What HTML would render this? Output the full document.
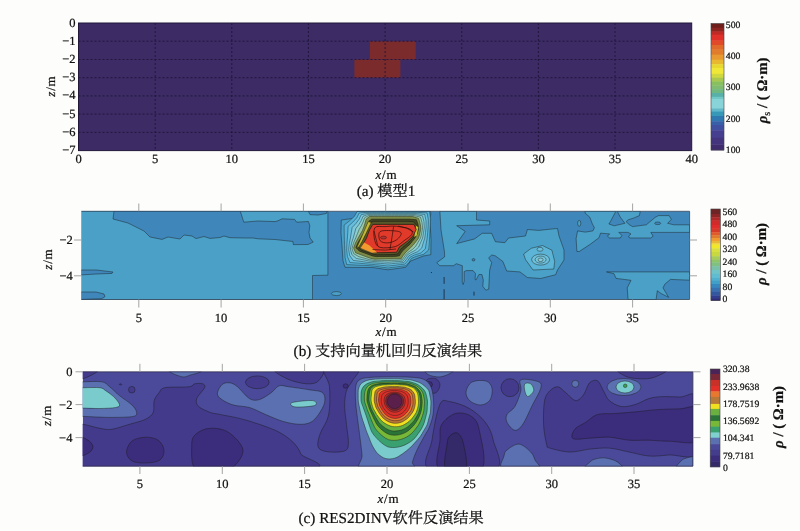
<!DOCTYPE html>
<html><head><meta charset="utf-8"><title>figure</title>
<style>html,body{margin:0;padding:0;background:#fdfdfb;}body{width:800px;height:531px;overflow:hidden;}svg{display:block;}</style>
</head><body>
<svg width="800" height="531" viewBox="0 0 800 531" style="will-change:transform" text-rendering="geometricPrecision">
<rect width="800" height="531" fill="#fdfdfb"/>
<rect x="78.5" y="23" width="613.2" height="127.6" fill="#3c2b64"/>
<rect x="369.8" y="41.2" width="46" height="18.2" fill="#7b2b2b"/>
<rect x="354.4" y="59.5" width="46" height="18.2" fill="#7b2b2b"/>
<g stroke="#1e1438" stroke-width="0.85" stroke-dasharray="2 2"><line x1="78.5" y1="41.2" x2="691.7" y2="41.2"/><line x1="78.5" y1="59.5" x2="691.7" y2="59.5"/><line x1="78.5" y1="77.7" x2="691.7" y2="77.7"/><line x1="78.5" y1="95.9" x2="691.7" y2="95.9"/><line x1="78.5" y1="114.1" x2="691.7" y2="114.1"/><line x1="78.5" y1="132.4" x2="691.7" y2="132.4"/><line x1="155.2" y1="23" x2="155.2" y2="150.6"/><line x1="231.8" y1="23" x2="231.8" y2="150.6"/><line x1="308.4" y1="23" x2="308.4" y2="150.6"/><line x1="385.1" y1="23" x2="385.1" y2="150.6"/><line x1="461.8" y1="23" x2="461.8" y2="150.6"/><line x1="538.4" y1="23" x2="538.4" y2="150.6"/><line x1="615" y1="23" x2="615" y2="150.6"/></g>
<rect x="78.5" y="23" width="613.2" height="127.6" fill="none" stroke="#22183a" stroke-width="1"/>
<g font-family="'Liberation Serif',serif" fill="#111" stroke="#111" stroke-width="0.22"><text x="75.5" y="26.5" font-size="12.5" text-anchor="end">0</text><text x="75.5" y="44.7" font-size="12.5" text-anchor="end">&#8722;1</text><text x="75.5" y="63" font-size="12.5" text-anchor="end">&#8722;2</text><text x="75.5" y="81.2" font-size="12.5" text-anchor="end">&#8722;3</text><text x="75.5" y="99.4" font-size="12.5" text-anchor="end">&#8722;4</text><text x="75.5" y="117.6" font-size="12.5" text-anchor="end">&#8722;5</text><text x="75.5" y="135.9" font-size="12.5" text-anchor="end">&#8722;6</text><text x="75.5" y="154.1" font-size="12.5" text-anchor="end">&#8722;7</text><text x="78.5" y="162.8" font-size="12.5" text-anchor="middle">0</text><text x="155.2" y="162.8" font-size="12.5" text-anchor="middle">5</text><text x="231.8" y="162.8" font-size="12.5" text-anchor="middle">10</text><text x="308.4" y="162.8" font-size="12.5" text-anchor="middle">15</text><text x="385.1" y="162.8" font-size="12.5" text-anchor="middle">20</text><text x="461.8" y="162.8" font-size="12.5" text-anchor="middle">25</text><text x="538.4" y="162.8" font-size="12.5" text-anchor="middle">30</text><text x="615" y="162.8" font-size="12.5" text-anchor="middle">35</text><text x="691.7" y="162.8" font-size="12.5" text-anchor="middle">40</text><text x="386" y="178.8" font-size="13" text-anchor="middle"><tspan font-style="italic">x</tspan><tspan dx="0.8">/</tspan><tspan dx="0.8">m</tspan></text><text transform="translate(50 86.5) rotate(-90)" font-size="13" text-anchor="middle" y="4.5"><tspan font-style="italic">z</tspan><tspan dx="0.8">/</tspan><tspan dx="0.8">m</tspan></text><text x="386" y="196" font-size="15.2" text-anchor="middle" font-family="'Liberation Serif','Noto Serif CJK SC','Noto Sans CJK SC',serif">(a) <tspan stroke="#111" stroke-width="0.25">模型</tspan>1</text></g>
<rect x="711" y="23.5" width="13" height="4.6" fill="#6e1f1c"/><rect x="711" y="27.7" width="13" height="4.2" fill="#8e2420"/><rect x="711" y="31.5" width="13" height="3.6" fill="#c02a26"/><rect x="711" y="34.7" width="13" height="6.2" fill="#e0302a"/><rect x="711" y="40.5" width="13" height="4.9" fill="#e04a28"/><rect x="711" y="45" width="13" height="4.9" fill="#e06a2a"/><rect x="711" y="49.5" width="13" height="5.5" fill="#e07c2c"/><rect x="711" y="54.6" width="13" height="5.5" fill="#e89a30"/><rect x="711" y="59.7" width="13" height="4.9" fill="#e8b830"/><rect x="711" y="64.2" width="13" height="4.2" fill="#e8d830"/><rect x="711" y="68" width="13" height="6.2" fill="#f0e838"/><rect x="711" y="73.8" width="13" height="4.3" fill="#d0d840"/><rect x="711" y="77.7" width="13" height="4.2" fill="#a8c850"/><rect x="711" y="81.5" width="13" height="4.3" fill="#88c060"/><rect x="711" y="85.4" width="13" height="4.1" fill="#80bc70"/><rect x="711" y="89.1" width="13" height="4.3" fill="#70b880"/><rect x="711" y="93" width="13" height="4.2" fill="#58b0a8"/><rect x="711" y="96.8" width="13" height="3" fill="#70c8c8"/><rect x="711" y="99.4" width="13" height="9.4" fill="#88d4d8"/><rect x="711" y="108.4" width="13" height="3.6" fill="#60b8c8"/><rect x="711" y="111.6" width="13" height="4.8" fill="#3898b8"/><rect x="711" y="116" width="13" height="5.6" fill="#3078b0"/><rect x="711" y="121.2" width="13" height="4.2" fill="#3860a8"/><rect x="711" y="125" width="13" height="5.6" fill="#4050a0"/><rect x="711" y="130.2" width="13" height="8" fill="#463e8e"/><rect x="711" y="137.8" width="13" height="6.9" fill="#44347e"/><rect x="711" y="144.3" width="13" height="6.1" fill="#3e2c6e"/>
<rect x="711" y="23.5" width="13" height="126.5" fill="none" stroke="#444" stroke-width="0.6"/>
<g font-family="'Liberation Serif',serif" fill="#111" stroke="#111" stroke-width="0.22"><text x="725.8" y="28" font-size="9.7" text-anchor="start">500</text><text x="725.8" y="59.2" font-size="9.7" text-anchor="start">400</text><text x="725.8" y="90.4" font-size="9.7" text-anchor="start">300</text><text x="725.8" y="121.6" font-size="9.7" text-anchor="start">200</text><text x="725.8" y="152.8" font-size="9.7" text-anchor="start">100</text><text transform="translate(762 90.4) rotate(-90)" font-size="14.8" text-anchor="middle" y="5" font-weight="bold"><tspan font-style="italic">&#961;</tspan><tspan font-weight="normal" font-size="10" dy="3">s</tspan><tspan dy="-3"> / ( &#937;&#183;m)</tspan></text></g>
<svg x="81.4" y="211.3" width="608.2" height="88.2" viewBox="81.4 211.3 608.2 88.2" overflow="hidden">
<rect x="81.4" y="211.3" width="608.2" height="88.2" fill="#3f86bb"/>
<path d="M80 210 L327.9 210 L327.9 275.2 L312.5 275.5 L312.5 301 L80 301Z" fill="#4aa0c6" stroke="#1a1a1a" stroke-width="0.45" stroke-linejoin="round"/>
<path d="M114 210 L240.3 210 L240.3 211.3 L243.8 222.2 L258 221 L275 221.6 L278 220.8 L282 218.8 L294.6 219.4 L296.7 222.2 L308.4 221.5 L309.8 225.6 L309 232.5 L310 238 L313.2 242.1 L308 244.5 L293.3 244.6 L293 241.5 L275 239.5 L258 238.8 L253 238 L245 238 L230 237.7 L224 236 L220 237.5 L210 238.4 L204 236.5 L196 238.6 L192 236 L184 235 L180 239 L168 237 L162 239.4 L150 237 L144 231 L128 223 L113 219 L114 211.3Z" fill="#3f86bb" stroke="#1a1a1a" stroke-width="0.45" stroke-linejoin="round"/>
<path d="M308.4 210 L308.4 211.3 L310 214.6 L318 215 L326.3 213.5 L327.5 210Z" fill="#3f86bb" stroke="#1a1a1a" stroke-width="0.45" stroke-linejoin="round"/>
<path d="M80 270 L96.4 270 L113 272 L112 273.4 L96 274 L80 275Z" fill="#3f86bb" stroke="#1a1a1a" stroke-width="0.45" stroke-linejoin="round"/>
<path d="M80 292 L96 292 L104 294 L105 296.6 L102 298.6 L80 299.5Z" fill="#3f86bb" stroke="#1a1a1a" stroke-width="0.45" stroke-linejoin="round"/>
<ellipse cx="336.4" cy="293.6" rx="5" ry="2" fill="#4aa0c6" stroke="#1a1a1a" stroke-width="0.45"/>
<path d="M439.8 210 L476.5 210 L476.5 220 L489.7 221 L489.7 224.8 L456.7 225.7 L465.2 231.4 L456.7 243.6 L474.6 238.9 L482.2 233.3 L491.6 233.3 L495.4 241.7 L504.8 242.7 L508.6 238 L525.5 236 L527.4 229.5 L538.7 230.4 L555.7 228.6 L557.5 228.5 L559 236 L564 250 L564 260 L557.5 270 L555.7 274.7 L540.6 278.5 L527.4 277.5 L519.9 271.9 L506.7 271 L502.9 261.5 L495.4 255.9 L491.7 255 L488.7 257.8 L491.7 262.7 L489.7 270 L488.7 289.2 L485.8 290.2 L482.8 286.3 L483.3 280 L481.9 274.5 L478.9 274.5 L476 280 L475 279.4 L475.5 273.5 L473 270.6 L466.2 270.6 L464.2 271.6 L464.2 281 L463.2 284.5 L462.3 282.4 L462.3 265.7 L456.4 263.7 L453.4 265.7 L439.7 265.7 L436.8 262.7 L444.6 256.9 L444.5 252 L441 230Z" fill="#4aa0c6" stroke="#1a1a1a" stroke-width="0.45" stroke-linejoin="round"/>
<ellipse cx="473.5" cy="259.8" rx="1.4" ry="1.2" fill="#3f86bb" stroke="#1a1a1a" stroke-width="0.45"/>
<g stroke="#1a2a40" stroke-width="0.9"><line x1="444.1" y1="277" x2="444.1" y2="283.8"/><line x1="444.1" y1="289.2" x2="444.1" y2="299.5"/><line x1="474" y1="291.7" x2="474" y2="295.6"/></g>
<ellipse cx="431.4" cy="272.5" rx="0.6" ry="0.6" fill="#1a2a40"/>
<path d="M523.6 254 L531.2 248.3 L542.5 245.5 L551.9 250.2 L554.7 261.5 L553.8 269 L533 270 L525.5 259.6Z" fill="#5cb4d6" stroke="#1a1a1a" stroke-width="0.45" stroke-linejoin="round"/>
<ellipse cx="540.6" cy="259.6" rx="9" ry="5.5" fill="#6cc0dc" stroke="#1a1a1a" stroke-width="0.45"/>
<ellipse cx="540.6" cy="259.6" rx="5.5" ry="3.5" fill="#78c6dc" stroke="#1a1a1a" stroke-width="0.45"/>
<ellipse cx="540.6" cy="259.8" rx="2.5" ry="1.8" fill="#84ccdc" stroke="#1a1a1a" stroke-width="0.45"/>
<ellipse cx="540" cy="249.3" rx="3" ry="2" fill="#6cc0dc" stroke="#1a1a1a" stroke-width="0.45"/>
<path d="M576.9 251.5 L576.1 238.5 L577.6 230.9 L585.3 232.1 L592.9 230.9 L594.4 227.8 L592.1 223.3 L589.8 217.2 L585.3 213.3 L584.5 209.5 L615.8 209.5 L615.8 211.4 L611.2 220.2 L608.9 224 L614.2 225.8 L624.9 223.3 L620.3 217.2 L617.3 211.4 L617.3 209.5 L640.2 209.5 L640.2 211.4 L639.4 215.6 L634.1 217.9 L628 219.9 L626.1 221.7 L629.5 224.8 L632.5 226.6 L646.3 224.8 L655.4 217.2 L658.5 215.6 L669.1 215.6 L671.4 219.4 L667.6 223.3 L673.7 224.8 L692 224.8 L692 232.4 L650.8 232.4 L653.1 236.2 L650.8 238 L629.5 238 L628.7 236.2 L631 233.9 L628 232.4 L618.8 232.4 L621.9 235.5 L620.3 238 L609.7 238 L607.4 236.2 L609.7 233.9 L600.5 233.2 L599 237.7 L589.8 244.6 L579.2 251.5Z" fill="#4aa0c6" stroke="#1a1a1a" stroke-width="0.45" stroke-linejoin="round"/>
<ellipse cx="657.7" cy="223.3" rx="3" ry="1.3" fill="#3f86bb" stroke="#1a1a1a" stroke-width="0.45"/>
<ellipse cx="579.2" cy="223.3" rx="1.6" ry="3" fill="#4aa0c6" stroke="#1a1a1a" stroke-width="0.45"/>
<path d="M606.5 271.9 L692 271.9 L692 280.3 L670.5 279.4 L664.9 284.1 L663 287.9 L668.6 297.3 L661 293.5 L657.3 290.7 L656.4 297.3 L656 301 L628.2 301 L627.2 287.9 L631 280.3 L616 278.4 L614 273.7Z" fill="#4aa0c6" stroke="#1a1a1a" stroke-width="0.45" stroke-linejoin="round"/>
<path d="M357.7 210 L356.4 218 L341.3 220 L341 233 L342 245.8 L343 261 L345 267.3 L372.8 267.5 L388 269.8 L405.6 267.3 L410.7 261 L423.3 256 L430.8 254.7 L431 239.5 L430 220.6 L430.8 213 L430 210Z" fill="#4aa0c6" stroke="#1a1a1a" stroke-width="0.45" stroke-linejoin="round"/>
<path d="M344.3 238 L344.2 231.7 L344.1 225.1 L349.8 220.6 L354.4 216.4 L357.2 211.3 L364.9 211.3 L370.8 211.3 L375.8 211.3 L380.2 211.3 L384.2 211.3 L388 211.3 L391.8 211.3 L395.8 211.3 L400.2 211.3 L405.2 211.3 L411.1 211.3 L418.8 211.3 L429.5 211.3 L430.6 218.5 L430.3 225.6 L429.9 232 L429.6 238 L429.2 243.9 L428.7 250 L423.7 254.3 L416.5 256.3 L411.5 258.3 L409 262.3 L405.8 265.7 L400.9 266.3 L396.5 266.9 L392.2 267.4 L388 268 L383.8 267.4 L379.5 266.8 L375.1 266.2 L370.2 265.7 L364.2 265.4 L356.8 265.1 L346.7 264.6 L345.1 257.6 L344.8 250.7 L344.5 244.3Z" fill="#56b2da" stroke="#203840" stroke-width="0.5" stroke-linejoin="round"/>
<path d="M347.4 238 L347.8 232.2 L348.1 226.3 L352.9 222 L356.7 217.9 L359.2 213 L365.9 212.4 L371.6 212.4 L376.3 212.4 L380.5 212.4 L384.3 212.4 L388 212.4 L391.7 212.4 L395.5 212.4 L399.7 212.4 L404.4 212.4 L410.1 212.4 L417.5 212.4 L427.1 212.9 L428.3 219.6 L428.2 226.2 L427.7 232.3 L427.2 238 L426.2 243.5 L425.3 248.9 L420.7 253 L414.5 255 L410.1 257.1 L407.7 260.8 L404.8 264.1 L400.2 264.6 L396 265.1 L392 265.6 L388 266 L384 265.6 L380 265.1 L375.8 264.7 L371.1 264.3 L365.6 263.8 L358.9 263.2 L349.9 262.5 L347.4 256.5 L346.7 250.1 L346.9 243.9Z" fill="#66bede" stroke="#203840" stroke-width="0.5" stroke-linejoin="round"/>
<path d="M350.4 238 L351.3 232.7 L352.1 227.5 L356 223.4 L359 219.4 L361.2 214.7 L366.8 213.6 L372.3 213.6 L376.9 213.6 L380.8 213.6 L384.5 213.6 L388 213.6 L391.5 213.6 L395.2 213.6 L399.1 213.6 L403.7 213.6 L409.2 213.6 L416.2 213.6 L424.7 214.4 L426 220.7 L426.1 226.8 L425.5 232.6 L424.8 238 L423.2 243.1 L421.8 247.9 L417.8 251.6 L412.6 253.8 L408.7 255.9 L406.5 259.3 L403.8 262.6 L399.4 263 L395.4 263.3 L391.7 263.7 L388 264 L384.3 263.7 L380.5 263.4 L376.5 263.1 L372 262.8 L367 262.3 L361 261.4 L353.2 260.4 L349.7 255.5 L348.7 249.5 L349.3 243.6Z" fill="#7cc8dc" stroke="#203840" stroke-width="0.5" stroke-linejoin="round"/>
<path d="M353.2 238 L354.6 233.2 L355.8 228.5 L358.8 224.7 L361.2 220.7 L363 216.3 L367.7 214.6 L373 214.6 L377.3 214.6 L381.1 214.6 L384.6 214.6 L388 214.6 L391.4 214.6 L394.9 214.6 L398.7 214.6 L403 214.6 L408.3 214.6 L415 214.6 L422.5 215.8 L423.9 221.6 L424.3 227.3 L423.5 232.9 L422.6 238 L420.5 242.7 L418.7 247 L415.1 250.4 L410.8 252.6 L407.4 254.8 L405.3 258 L402.9 261.2 L398.7 261.5 L395 261.7 L391.4 262 L388 262.2 L384.5 262 L381 261.8 L377.2 261.7 L372.9 261.5 L368.2 260.8 L362.9 259.7 L356.2 258.4 L351.8 254.5 L350.4 249 L351.5 243.2Z" fill="#8ccfd0" stroke="#203840" stroke-width="0.5" stroke-linejoin="round"/>
<path d="M355.7 238 L357.5 233.6 L359.1 229.5 L361.3 225.8 L363.1 222 L364.6 217.7 L368.6 215.6 L373.6 215.6 L377.8 215.6 L381.4 215.6 L384.8 215.6 L388 215.6 L391.2 215.6 L394.6 215.6 L398.2 215.6 L402.4 215.6 L407.4 215.6 L413.9 215.6 L420.5 217.1 L422 222.5 L422.6 227.8 L421.7 233.2 L420.6 238 L418 242.3 L415.8 246.2 L412.6 249.3 L409.2 251.6 L406.3 253.9 L404.3 256.8 L402.1 259.9 L398.1 260.1 L394.5 260.3 L391.2 260.4 L388 260.6 L384.8 260.5 L381.4 260.4 L377.8 260.4 L373.6 260.4 L369.3 259.6 L364.6 258.3 L358.9 256.7 L353.7 253.7 L352 248.6 L353.5 243Z" fill="#98c8a8" stroke="#203840" stroke-width="0.5" stroke-linejoin="round"/>
<path d="M358.1 238 L360.4 234 L362.4 230.5 L363.8 227 L365 223.2 L366.2 219.1 L369.4 216.5 L374.2 216.5 L378.2 216.5 L381.7 216.5 L384.9 216.5 L388 216.5 L391.1 216.5 L394.3 216.5 L397.8 216.5 L401.8 216.5 L406.6 216.5 L412.8 216.5 L418.6 218.4 L420.1 223.3 L420.9 228.3 L419.9 233.4 L418.6 238 L415.6 242 L413 245.3 L410.2 248.1 L407.6 250.6 L405.2 252.9 L403.2 255.5 L401.3 258.6 L397.5 258.8 L394.1 258.8 L391 258.9 L388 258.9 L385 259 L381.8 259 L378.4 259.1 L374.4 259.2 L370.4 258.3 L366.3 256.8 L361.5 255 L355.6 252.8 L353.6 248.1 L355.5 242.7Z" fill="#7c8c48" stroke="#2a2a18" stroke-width="0.5" stroke-linejoin="round"/>
<path d="M360.8 238 L363 234.4 L364.9 231.2 L366.3 228.1 L367.5 224.8 L368.7 221.3 L371.7 219.2 L375.9 219.2 L379.4 219.2 L382.5 219.2 L385.3 219.2 L388 219.2 L390.7 219.2 L393.5 219.2 L396.6 219.2 L400.1 219.2 L404.3 219.2 L409.7 219.2 L416.4 219.8 L418 224.3 L418.5 229.1 L417.2 233.8 L415 238 L412.2 241.5 L409.8 244.4 L407.1 246.7 L404.8 248.8 L402.7 250.7 L401 253 L399.4 255.7 L396.4 256.3 L393.4 256.4 L390.6 256.4 L388 256.4 L385.3 256.5 L382.6 256.5 L379.5 256.5 L376.1 256.6 L372.5 255.9 L368.9 254.6 L364.6 253 L359.3 251.1 L355.9 247.4 L358.2 242.3Z" fill="#424624" stroke="#1a1a10" stroke-width="0.6" stroke-linejoin="round"/>
<path d="M363.6 238 L365.2 234.7 L366.6 231.7 L367.8 228.8 L369 225.8 L370.3 222.6 L373.6 221.3 L377.3 221.3 L380.4 221.3 L383.1 221.3 L385.6 221.3 L388 221.3 L390.4 221.3 L392.9 221.3 L395.6 221.3 L398.7 221.3 L402.4 221.3 L407.2 221.3 L413.5 221.6 L416.4 225 L417.3 229.4 L415.5 234 L412.9 238 L410 241.2 L407.3 243.7 L404.9 245.7 L402.7 247.4 L400.9 249.2 L399.5 251.3 L398.1 253.8 L395.5 254.4 L392.8 254.5 L390.4 254.5 L388 254.6 L385.6 254.6 L383.1 254.7 L380.4 254.7 L377.2 254.8 L373.9 254.3 L370.5 253.2 L366.4 251.9 L361.4 250.2 L358.4 246.7 L361.2 241.9Z" fill="#56582a" stroke="#1a1a10" stroke-width="0.6" stroke-linejoin="round"/>
<path d="M368.2 221.6 L371.2 222.6 L366.5 232.5 L362 241.5 L359 246.8 L356.5 248.3 L358.5 243.8 L363.5 232.5Z" fill="#c4b834" stroke="#2a2a10" stroke-width="0.5" stroke-linejoin="round"/>
<path d="M416.2 225.5 L418.3 227.5 L416.8 235.5 L414.2 237Z" fill="#c8c030"/>
<path d="M372.8 224.4 L414 224.4 L416.2 229.5 L413.3 235.5 L407.3 241.3 L399.5 246.8 L396.5 252.3 L376 252.8 L361 248 L366.5 238 L369.5 230Z" fill="#e23a2a" stroke="#201a10" stroke-width="0.7" stroke-linejoin="round"/>
<path d="M360.5 248 L364.2 242.5 L369.5 245.5 L377 252.5 L372 252.8Z" fill="#f09a30"/>
<path d="M374.8 227.8 C376.5 225.5 381.4 226.8 385 226.6 C388.6 226.3 392.4 225.9 396.6 226.3 C400.8 226.8 407.7 227.9 410.2 229.3 C412.7 230.7 412.7 232.6 411.7 234.5 C410.7 236.4 406.9 238.6 404.2 240.6 C401.4 242.6 399.2 245.5 395.2 246.6 C391.2 247.7 383.5 248.4 380.1 247.4 C376.7 246.4 375.7 243.9 374.8 240.6 C373.9 237.3 373.1 230.1 374.8 227.8Z" fill="none" stroke="#2a0c08" stroke-width="0.7"/>
<path d="M380.1 231.6 C382.4 230 390.1 230.6 393.6 230.8 C397.1 231.1 400.7 231.6 401.2 233.1 C401.7 234.6 398.9 238.2 396.6 239.8 C394.3 241.4 390.4 242.8 387.6 242.9 C384.9 243 381.4 242.5 380.1 240.6 C378.9 238.7 377.9 233.2 380.1 231.6Z" fill="none" stroke="#2a0c08" stroke-width="0.7"/>
<path d="M393.6 226.3 Q392 238 389.9 249.7 M374 231 Q376 239 377.8 246 M398 226 Q407 227 413.5 232 M372.5 249.5 Q386 251 396 249" fill="none" stroke="#2a0c08" stroke-width="0.65"/>
<ellipse cx="383.5" cy="237.6" rx="3" ry="1.5" fill="#a83434" stroke="#3a1010" stroke-width="0.45"/>
</svg>
<path d="M81.4 211.3 H689.6 V299.5 H81.4" fill="none" stroke="#263c52" stroke-width="0.8"/>
<g stroke="#9a9a9a" stroke-width="0.9"><line x1="138.8" y1="203.5" x2="138.8" y2="211.3"/><line x1="138.8" y1="299.5" x2="138.8" y2="307.5"/><line x1="221.1" y1="203.5" x2="221.1" y2="211.3"/><line x1="221.1" y1="299.5" x2="221.1" y2="307.5"/><line x1="303.4" y1="203.5" x2="303.4" y2="211.3"/><line x1="303.4" y1="299.5" x2="303.4" y2="307.5"/><line x1="385.7" y1="203.5" x2="385.7" y2="211.3"/><line x1="385.7" y1="299.5" x2="385.7" y2="307.5"/><line x1="468" y1="203.5" x2="468" y2="211.3"/><line x1="468" y1="299.5" x2="468" y2="307.5"/><line x1="550.3" y1="203.5" x2="550.3" y2="211.3"/><line x1="550.3" y1="299.5" x2="550.3" y2="307.5"/><line x1="632.6" y1="203.5" x2="632.6" y2="211.3"/><line x1="632.6" y1="299.5" x2="632.6" y2="307.5"/><line x1="74" y1="240" x2="81.4" y2="240"/><line x1="689.6" y1="240" x2="697" y2="240"/><line x1="74" y1="275.8" x2="81.4" y2="275.8"/><line x1="689.6" y1="275.8" x2="697" y2="275.8"/></g>
<rect x="710.9" y="209" width="9.4" height="5.4" fill="#6e2424"/><rect x="710.9" y="214" width="9.4" height="3.6" fill="#8c2626"/><rect x="710.9" y="217.2" width="9.4" height="3.7" fill="#b02828"/><rect x="710.9" y="220.5" width="9.4" height="4.7" fill="#d02a2a"/><rect x="710.9" y="224.8" width="9.4" height="4.1" fill="#e02c2a"/><rect x="710.9" y="228.5" width="9.4" height="4.2" fill="#d83a2a"/><rect x="710.9" y="232.3" width="9.4" height="3.2" fill="#e05a2c"/><rect x="710.9" y="235.1" width="9.4" height="3.3" fill="#e07a30"/><rect x="710.9" y="238" width="9.4" height="3.2" fill="#f09a30"/><rect x="710.9" y="240.8" width="9.4" height="2.7" fill="#e8b838"/><rect x="710.9" y="243.1" width="9.4" height="1.8" fill="#f0d040"/><rect x="710.9" y="244.5" width="9.4" height="4.2" fill="#f0e828"/><rect x="710.9" y="248.3" width="9.4" height="4.1" fill="#d8e040"/><rect x="710.9" y="252" width="9.4" height="4.6" fill="#c8d840"/><rect x="710.9" y="256.2" width="9.4" height="3.7" fill="#a8cc58"/><rect x="710.9" y="259.5" width="9.4" height="3.3" fill="#90c468"/><rect x="710.9" y="262.4" width="9.4" height="4.1" fill="#80c080"/><rect x="710.9" y="266.1" width="9.4" height="4.2" fill="#78c0a8"/><rect x="710.9" y="269.9" width="9.4" height="4.2" fill="#70c4c8"/><rect x="710.9" y="273.7" width="9.4" height="4.1" fill="#60bcd0"/><rect x="710.9" y="277.4" width="9.4" height="3.2" fill="#50b0d0"/><rect x="710.9" y="280.2" width="9.4" height="4.2" fill="#40a0c8"/><rect x="710.9" y="284" width="9.4" height="4.2" fill="#3888c0"/><rect x="710.9" y="287.8" width="9.4" height="4.1" fill="#3870b0"/><rect x="710.9" y="291.5" width="9.4" height="4.2" fill="#3458a0"/><rect x="710.9" y="295.3" width="9.4" height="3.2" fill="#303e90"/><rect x="710.9" y="298.1" width="9.4" height="2.7" fill="#2e2c78"/>
<rect x="710.9" y="209" width="9.4" height="91.4" fill="none" stroke="#444" stroke-width="0.6"/>
<g font-family="'Liberation Serif',serif" fill="#111" stroke="#111" stroke-width="0.22"><text x="138.8" y="321.5" font-size="12.5" text-anchor="middle">5</text><text x="221.1" y="321.5" font-size="12.5" text-anchor="middle">10</text><text x="303.4" y="321.5" font-size="12.5" text-anchor="middle">15</text><text x="385.7" y="321.5" font-size="12.5" text-anchor="middle">20</text><text x="468" y="321.5" font-size="12.5" text-anchor="middle">25</text><text x="550.3" y="321.5" font-size="12.5" text-anchor="middle">30</text><text x="632.6" y="321.5" font-size="12.5" text-anchor="middle">35</text><text x="72.8" y="244" font-size="12.5" text-anchor="end">&#8722;2</text><text x="72.8" y="279.8" font-size="12.5" text-anchor="end">&#8722;4</text><text x="386" y="336" font-size="13" text-anchor="middle"><tspan font-style="italic">x</tspan><tspan dx="0.8">/</tspan><tspan dx="0.8">m</tspan></text><text transform="translate(47.3 259.5) rotate(-90)" font-size="13" text-anchor="middle" y="4.5"><tspan font-style="italic">z</tspan><tspan dx="0.8">/</tspan><tspan dx="0.8">m</tspan></text><text x="293.6" y="356" font-size="15.2" text-anchor="start" font-family="'Liberation Serif','Noto Serif CJK SC','Noto Sans CJK SC',serif">(b) <tspan stroke="#111" stroke-width="0.25">支持向量机回归反演结果</tspan></text><text x="722.6" y="214.7" font-size="9.7" text-anchor="start">560</text><text x="722.6" y="227.2" font-size="9.7" text-anchor="start">480</text><text x="722.6" y="239.8" font-size="9.7" text-anchor="start">400</text><text x="722.6" y="252.3" font-size="9.7" text-anchor="start">320</text><text x="722.6" y="264.8" font-size="9.7" text-anchor="start">240</text><text x="722.6" y="277.3" font-size="9.7" text-anchor="start">160</text><text x="722.6" y="289.9" font-size="9.7" text-anchor="start">80</text><text x="722.6" y="302.4" font-size="9.7" text-anchor="start">0</text><text transform="translate(761.2 254) rotate(-90)" font-size="14.8" text-anchor="middle" y="5" font-weight="bold"><tspan font-style="italic">&#961;</tspan> / ( &#937;&#183;m)</text></g>
<svg x="82.7" y="371.8" width="610.2" height="94.4" viewBox="82.7 371.8 610.2 94.4" overflow="hidden">
<rect x="82.7" y="371.8" width="610.2" height="94.4" fill="#4b4a9a"/>
<path d="M70 424.3 C72.2 416.7 78 423.6 83 424.3 C88 425 95 427.5 99.8 428.3 C104.6 429.1 106.7 430 111.6 429.3 C116.5 428.6 123.8 426 129.4 424.3 C135 422.6 141.3 421.4 145.3 419.4 C149.3 417.4 151.7 415.6 153.2 412.5 C154.7 409.4 153.2 403.9 154.2 400.6 C155.2 397.3 157.3 394.9 159.1 392.7 C160.9 390.5 160.1 388.7 165 387.7 C169.9 386.7 183.9 387.4 188.8 386.8 C193.8 386.2 192.4 384.3 194.7 383.8 C197 383.3 200.9 383.2 202.6 383.8 C204.2 384.4 205.6 385.2 204.6 387.7 C203.6 390.2 197.7 395.5 196.7 398.6 C195.7 401.7 196.3 404.2 198.6 406.5 C200.9 408.8 207 411.2 210.5 412.5 C214 413.8 215 413.4 219.8 414.4 C224.6 415.4 232.9 416.8 239.5 418.4 C246.1 420 252.7 422 259.3 424.3 C265.9 426.6 273.5 429.2 279.1 432.2 C284.7 435.2 289.3 438.5 292.9 442.1 C296.5 445.7 299.2 449.4 300.9 454 C302.6 458.6 341.5 467.3 303 470 C264.5 472.7 108.8 477.6 70 470 C31.2 462.4 67.8 431.9 70 424.3Z" fill="#443a8c" stroke="#1a1a1a" stroke-width="0.45"/>
<path d="M82 371 C84.6 369.7 97.8 369.7 97.8 371 C97.8 372.3 84.6 378.8 82 378.8 C79.4 378.8 79.4 372.3 82 371Z" fill="#443a8c" stroke="#1a1a1a" stroke-width="0.45"/>
<path d="M275 368 C269.4 369.8 281.7 376.2 287 378.8 C292.3 381.4 301.5 383.5 306.8 383.8 C312.1 384.1 316.3 383.4 318.6 380.8 C320.9 378.2 327.9 370.1 320.6 368 C313.3 365.9 280.6 366.2 275 368Z" fill="#443a8c" stroke="#1a1a1a" stroke-width="0.45"/>
<ellipse cx="257.3" cy="382.3" rx="11.8" ry="6.4" fill="#443a8c" stroke="#1a1a1a" stroke-width="0.45"/>
<path d="M324.8 368 C320.1 371.1 328.9 378.9 329.5 386.8 C330.1 394.7 330.2 407.2 328.6 415.1 C327 423 321.8 428.6 320.1 433.9 C318.4 439.2 316.9 444.1 318.2 447.1 C319.5 450.1 323.3 451.2 327.7 451.8 C332.1 452.4 341.2 452.3 344.6 450.9 C348.1 449.5 348.1 447.7 348.4 443.3 C348.7 438.9 347.1 430.8 346.5 424.5 C345.9 418.2 344.6 411.3 344.6 405.7 C344.6 400.1 345.2 394.7 346.5 390.6 C347.8 386.5 350.2 385 352.1 381.2 C354 377.4 362.4 370.2 357.8 368 C353.2 365.8 329.5 364.9 324.8 368Z" fill="#443a8c" stroke="#1a1a1a" stroke-width="0.45"/>
<ellipse cx="345.6" cy="386" rx="2.6" ry="2.2" fill="#3c2c7c" stroke="#1a1a1a" stroke-width="0.45"/>
<path d="M424 385 C424 382.8 426 380 428 379 C430 378 434 377.8 436 378.8 C438 379.8 440 382.7 440 385 C440 387.3 438 391.5 436 392.7 C434 393.9 430 393.3 428 392 C426 390.7 424 387.2 424 385Z" fill="#443a8c" stroke="#1a1a1a" stroke-width="0.45"/>
<ellipse cx="428.5" cy="384.5" rx="4" ry="3" fill="#3c2c7c" stroke="#1a1a1a" stroke-width="0.45"/>
<ellipse cx="510" cy="387.7" rx="9" ry="9" fill="#443a8c" stroke="#1a1a1a" stroke-width="0.45"/>
<path d="M430 470 C419.5 465 430.4 450.9 432 440 C433.6 429.1 436.9 410.9 439.8 404.5 C442.8 398.1 444.8 400.9 449.7 401.6 C454.6 402.3 463.5 405.1 469.4 408.5 C475.3 411.9 481.3 417 485.3 422.3 C489.3 427.6 491.6 432.2 493.2 440.1 C494.8 448.1 505.6 465 495.1 470 C484.6 475 440.5 475 430 470Z" fill="#443a8c" stroke="#1a1a1a" stroke-width="0.45"/>
<path d="M439.8 470 C432.9 465 439.7 447.6 440 440 C440.3 432.4 439.2 428.7 441.8 424.3 C444.4 419.9 450.7 414.7 455.6 413.4 C460.5 412.1 467.4 413.6 471.4 416.4 C475.3 419.2 477.6 421.4 479.3 430.3 C481 439.2 487.9 463.4 481.3 470 C474.7 476.6 446.7 475 439.8 470Z" fill="#3c2c7c" stroke="#1a1a1a" stroke-width="0.45"/>
<path d="M445.7 470 C442.6 465.8 446.3 450.6 447 445 C447.7 439.4 447.9 438.2 449.7 436.2 C451.5 434.2 455.3 431.9 457.6 433.2 C459.9 434.5 462.2 438 463.5 444.1 C464.8 450.2 468.5 465.7 465.5 470 C462.5 474.3 448.8 474.2 445.7 470Z" fill="#342a6a" stroke="#1a1a1a" stroke-width="0.45"/>
<path d="M543.6 424.3 C543.3 417.1 543.5 406.2 544.6 400.6 C545.7 395 547.8 393 550 390.7 C552.2 388.4 555.3 386.5 557.9 386.8 C560.5 387.1 562.8 390.4 565.8 392.7 C568.8 395 572.7 400.3 575.7 400.6 C578.7 400.9 581.3 397.7 583.6 394.7 C585.9 391.7 587.3 385.1 589.6 382.8 C591.9 380.5 595.2 379.5 597.5 380.8 C599.8 382.1 601.4 387.4 603.4 390.7 C605.4 394 606.3 398 609.3 400.6 C612.3 403.2 616.9 405.8 621.2 406.5 C625.5 407.2 630.4 405.9 635 404.6 C639.6 403.3 644.6 399.9 648.9 398.6 C653.2 397.3 655.6 397 660.8 396.7 C666 396.4 673.5 396.9 680 397 C686.5 397.1 696.7 388.4 700 397.6 C703.3 406.8 705.2 442.4 700 452 C694.8 461.6 677.2 454.3 668.7 455 C660.2 455.7 655.5 456.5 648.9 456 C642.3 455.5 635.7 453.3 629.1 452 C622.5 450.7 615.9 448.6 609.3 448.1 C602.7 447.6 596.2 448.5 589.6 449.1 C583 449.8 576.4 452.2 569.8 452 C563.2 451.8 553.9 449.4 550 448.1 C546.1 446.8 547.7 448.1 546.6 444.1 C545.5 440.1 543.9 431.6 543.6 424.3Z" fill="#443a8c" stroke="#1a1a1a" stroke-width="0.45"/>
<path d="M619.2 368 C612.2 369.3 621.5 374.2 625 376 C628.5 377.8 635 378.6 640 378.8 C645 379 650.5 378.8 655 377 C659.5 375.2 672.7 369.5 666.7 368 C660.7 366.5 626.2 366.7 619.2 368Z" fill="#443a8c" stroke="#1a1a1a" stroke-width="0.45"/>
<path d="M80 438.2 C81.3 435.7 85.8 438.8 87.9 440.1 C90.1 441.4 92.6 444.1 92.9 446.1 C93.2 448.1 92.1 450.5 89.9 452 C87.8 453.5 81.7 457.3 80 455 C78.3 452.7 78.7 440.7 80 438.2Z" fill="#3c2c7c" stroke="#1a1a1a" stroke-width="0.45"/>
<path d="M126.5 452 C126.5 448.7 128.9 443.5 132 441 C135.1 438.5 140.7 437.4 145 437.2 C149.3 437 154.8 437.9 158 440 C161.2 442.1 163.7 446.7 164 450 C164.3 453.3 163 457.8 160 460 C157 462.2 150.7 462.8 146 463 C141.3 463.2 135.2 462.8 132 461 C128.8 459.2 126.5 455.3 126.5 452Z" fill="#3c2c7c" stroke="#1a1a1a" stroke-width="0.45"/>
<path d="M191.7 445 C191.7 439 192.9 436.8 196 434 C199.1 431.2 204.7 428.6 210 428.3 C215.3 428 222.6 428.7 228 432 C233.4 435.3 240.8 443 242.5 448 C244.2 453 240.9 458.3 238 462 C235.1 465.7 232 468.7 225 470 C218 471.3 201.6 474.2 196 470 C190.4 465.8 191.7 451 191.7 445Z" fill="#3c2c7c" stroke="#1a1a1a" stroke-width="0.45"/>
<path d="M571.8 436.2 C571.8 434.4 573.4 430.6 575.7 428.3 C578 426 582 424.7 585.6 422.4 C589.2 420.1 592.5 416 597.5 414.5 C602.5 413 608.4 414 615.3 413.5 C622.2 413 631.8 412.2 639 411.5 C646.2 410.8 652 409.9 658.8 409.5 C665.6 409.1 673.1 409 680 408.8 C686.9 408.6 696.7 403.3 700 408.5 C703.3 413.7 705.2 434.8 700 440.2 C694.8 445.6 677.2 441.2 668.7 441.2 C660.2 441.2 655.5 440.4 648.9 440.2 C642.3 440 635.7 440.7 629.1 440.2 C622.5 439.7 615.9 437.5 609.3 437.2 C602.7 436.9 595.2 437.9 589.6 438.2 C584 438.5 578.7 439.5 575.7 439.2 C572.7 438.9 571.8 438 571.8 436.2Z" fill="#3c2c7c" stroke="#1a1a1a" stroke-width="0.45"/>
<path d="M70 381.8 C72.2 376 77.7 381.8 83 381.8 C88.3 381.8 97.3 381 101.8 381.8 C106.2 382.6 106.8 384.5 109.7 386.8 C112.7 389.1 115.9 392.7 119.5 395.6 C123.1 398.6 128.6 401.9 131.4 404.5 C134.2 407.1 136.1 409.5 136.4 411.5 C136.7 413.5 137.8 415.4 133.4 416.4 C129 417.4 118.1 417.4 109.7 417.4 C101.3 417.4 89.6 416.6 83 416.4 C76.4 416.2 72.2 422.2 70 416.4 C67.8 410.6 67.8 387.6 70 381.8Z" fill="#5a70b0" stroke="#1a1a1a" stroke-width="0.45"/>
<path d="M70 387.7 C72.2 384.3 78 387.7 83 387.7 C88 387.7 96 387.2 99.8 387.7 C103.6 388.2 103.4 389.2 105.7 390.7 C108 392.2 111.3 394.3 113.6 396.6 C115.9 398.9 119.2 402.7 119.5 404.5 C119.8 406.3 118.9 406.8 115.6 407.5 C112.3 408.2 105.2 408.4 99.8 408.5 C94.4 408.6 88 408.2 83 408.1 C78 408 72.2 411.5 70 408.1 C67.8 404.7 67.8 391.1 70 387.7Z" fill="#7acccc" stroke="#1a1a1a" stroke-width="0.45"/>
<ellipse cx="131.8" cy="389.7" rx="3.3" ry="3.3" fill="#443a8c" stroke="#1a1a1a" stroke-width="0.45"/>
<ellipse cx="120.5" cy="384.4" rx="1.2" ry="0.6" fill="#443a8c" stroke="#1a1a1a" stroke-width="0.45"/>
<path d="M169 368 C163.7 368.8 169.3 371.2 171 372.5 C172.7 373.8 176.6 375.2 178.9 375.9 C181.2 376.6 182.8 377.1 184.8 376.9 C186.8 376.7 188.3 375.6 190.7 374.9 C193.1 374.2 197 373.6 199 372.5 C201 371.4 207.6 368.8 202.6 368 C197.6 367.2 174.3 367.2 169 368Z" fill="#5a70b0" stroke="#1a1a1a" stroke-width="0.45"/>
<path d="M217.8 395.6 C216.2 392.3 219.8 386.9 221.8 384.8 C223.8 382.7 227.1 382.5 229.7 382.8 C232.3 383.1 234.3 384.2 237.6 386.8 C240.9 389.4 245.8 396.5 249.4 398.6 C253 400.7 255.7 400.6 259.3 399.6 C262.9 398.6 267.9 395 271.2 392.7 C274.5 390.4 276.1 386.8 279.1 385.8 C282.1 384.8 284.1 386.2 289 386.8 C293.9 387.4 303.2 388.7 308.8 389.7 C314.4 390.7 320 390.5 322.6 392.7 C325.2 394.9 325.3 399 324.6 402.6 C323.9 406.2 320.9 411.1 318.6 414.4 C316.3 417.7 314 420.6 310.7 422.3 C307.4 424 303.5 424.5 298.9 424.3 C294.3 424.1 288.6 423 283 421.4 C277.4 419.8 270.9 416.7 265.3 414.4 C259.7 412.1 255 409.1 249.4 407.5 C243.8 405.9 236.9 406.5 231.6 404.5 C226.3 402.5 219.4 398.9 217.8 395.6Z" fill="#5a70b0" stroke="#1a1a1a" stroke-width="0.45"/>
<path d="M292 402.6 C295 401.6 308.9 400.1 312.7 400.6 C316.5 401.1 317.7 404.4 314.7 405.5 C311.7 406.6 298.7 407.4 294.9 406.9 C291.1 406.4 289 403.7 292 402.6Z" fill="#7acccc" stroke="#1a1a1a" stroke-width="0.45"/>
<path d="M426 368 C421.8 369.1 425.7 373 428 374.5 C430.3 376 436.1 377.2 440 376.9 C443.9 376.6 449.4 374 451.6 372.5 C453.8 371 457.3 368.8 453 368 C448.7 367.2 430.2 366.9 426 368Z" fill="#5a70b0" stroke="#1a1a1a" stroke-width="0.45"/>
<path d="M466 392 C466.3 388.8 468.7 383.8 472 382 C475.3 380.2 482.7 380 486 381 C489.3 382 491.3 384.8 492 388 C492.7 391.2 491.8 397.2 490 400 C488.2 402.8 484.3 404.8 481 405 C477.7 405.2 472.5 403.2 470 401 C467.5 398.8 465.7 395.2 466 392Z" fill="#5a70b0" stroke="#1a1a1a" stroke-width="0.45"/>
<path d="M520.9 379.8 C523.9 378.3 535.3 380.3 538.6 381.8 C541.9 383.3 541.6 384.9 540.6 388.7 C539.6 392.5 535.7 398.6 532.7 404.5 C529.7 410.4 525.8 420 522.8 424.3 C519.8 428.6 517.5 430.6 514.9 430.3 C512.3 430 508.3 425 507 422.3 C505.7 419.6 505.7 417 507 414.4 C508.3 411.8 512.6 410.4 514.9 406.5 C517.2 402.6 519.9 395.1 520.9 390.7 C521.9 386.2 517.9 381.3 520.9 379.8Z" fill="#5a70b0" stroke="#1a1a1a" stroke-width="0.45"/>
<path d="M524.8 383.8 C525.8 382.7 529.2 382.7 530.7 383.8 C532.2 384.9 534.2 388.6 533.7 390.7 C533.2 392.8 529.3 396.6 527.8 396.6 C526.3 396.6 525.3 392.8 524.8 390.7 C524.3 388.6 523.8 384.9 524.8 383.8Z" fill="#7acccc" stroke="#1a1a1a" stroke-width="0.45"/>
<path d="M503 470 C497.2 467.7 503.3 459.3 504 456 C504.7 452.7 504.5 452 507 450 C509.5 448 514.9 443.8 518.9 444.1 C522.9 444.4 528 449.4 530.7 452 C533.4 454.6 533.7 457 535 460 C536.3 463 543.9 468.3 538.6 470 C533.3 471.7 508.8 472.3 503 470Z" fill="#5a70b0" stroke="#1a1a1a" stroke-width="0.45"/>
<ellipse cx="575.3" cy="383.8" rx="3.5" ry="3.5" fill="#5a70b0" stroke="#1a1a1a" stroke-width="0.45"/>
<ellipse cx="624" cy="387" rx="17" ry="8.5" fill="#5a70b0" stroke="#1a1a1a" stroke-width="0.45"/>
<ellipse cx="625" cy="387" rx="9" ry="6" fill="#7acccc" stroke="#1a1a1a" stroke-width="0.45"/>
<ellipse cx="625.2" cy="385.8" rx="1.8" ry="1.8" fill="#3aa050" stroke="#1a1a1a" stroke-width="0.45"/>
<path d="M585.6 470 C580.4 468.7 588.4 463.8 590 462 C591.6 460.2 592.9 459.7 595.5 459 C598.1 458.3 601.8 457.5 605.4 458 C609 458.5 614.7 459.9 617.3 461.9 C619.9 463.9 626.5 468.6 621.2 470 C615.9 471.4 590.8 471.3 585.6 470Z" fill="#5a70b0" stroke="#1a1a1a" stroke-width="0.45"/>
<path d="M676.6 470 C673.3 468.7 678.4 464 680 462 C681.6 460 683.2 458.8 686.5 458 C689.8 457.2 697.8 455 700 457 C702.2 459 703.9 467.8 700 470 C696.1 472.2 679.9 471.3 676.6 470Z" fill="#5a70b0" stroke="#1a1a1a" stroke-width="0.45"/>
<path d="M356 385 C356.9 381.5 358.3 380.3 361 379 C363.7 377.7 366.3 377.7 372 377.3 C377.7 376.9 387.8 376.8 395 376.8 C402.2 376.8 410 377 415 377.5 C420 378 422.3 378.4 425 380 C427.7 381.6 429.6 383.7 431 387 C432.4 390.3 433.2 395.3 433.5 400 C433.8 404.7 433.8 410.3 433 415 C432.2 419.7 430.3 424.7 429 428 C427.7 431.3 427 431.3 425 435 C423 438.7 419.1 445.5 417 450 C414.9 454.5 413.4 458.7 412.5 462 C411.6 465.3 419.9 468.7 411.5 470 C403.1 471.3 370.2 472.5 362 470 C353.8 467.5 362.5 461.7 362 455 C361.5 448.3 359.8 436.7 359 430 C358.2 423.3 357.6 420 357 415 C356.4 410 355.7 405 355.5 400 C355.3 395 355.1 388.5 356 385Z" fill="#5a70b0" stroke="#1a1a1a" stroke-width="0.45"/>
<path d="M358.3 401.3 C358.1 399.4 358.2 397.5 358.2 395.5 C358.2 393.6 358 391.5 358.4 389.5 C358.9 387.6 359.5 385.6 360.8 384.1 C362.1 382.6 364.2 381.5 366.2 380.7 C368.2 379.9 370.6 379.6 372.7 379.4 C374.7 379.1 376.7 379.1 378.4 379 C380.2 379 381.7 378.8 383.1 378.8 C384.6 378.8 386 378.8 387.3 378.8 C388.6 378.8 389.8 378.8 391 378.8 C392.3 378.8 393.4 378.8 394.6 378.8 C395.8 378.8 397 378.8 398.2 378.8 C399.4 378.9 400.5 379 401.8 379.1 C403.1 379.2 404.3 379.3 405.7 379.5 C407.1 379.6 408.7 379.6 410.2 379.8 C411.7 380.1 413.2 380.5 414.9 381 C416.5 381.5 418.4 382 420 382.8 C421.7 383.7 423.1 384.8 424.5 386 C426 387.3 427.7 388.7 428.6 390.3 C429.5 391.9 429.5 393.9 429.9 395.7 C430.3 397.5 430.8 399.4 430.9 401.3 C431.1 403.2 430.8 405.1 430.7 407 C430.6 409 430.6 410.9 430.3 412.9 C429.9 414.8 429.2 416.7 428.7 418.7 C428.2 420.7 427.9 422.9 427 424.9 C426.2 426.8 424.9 428.5 423.8 430.5 C422.7 432.4 421.6 434.7 420.2 436.6 C418.8 438.5 417.1 440.2 415.4 442.1 C413.7 444 411.9 446.1 409.8 448 C407.7 449.9 405.4 451.8 402.9 453.5 C400.3 455.2 397.5 457.4 394.6 458.2 C391.7 459 388.4 459.3 385.5 458.5 C382.7 457.7 379.9 455.7 377.6 453.5 C375.4 451.3 373.7 448 372.2 445.3 C370.7 442.5 369.8 439.4 368.8 436.9 C367.7 434.3 366.8 432.1 366 429.9 C365.2 427.7 364.5 425.6 363.9 423.6 C363.2 421.6 362.5 419.8 362 417.9 C361.4 416.1 360.9 414.2 360.5 412.4 C360 410.5 359.7 408.7 359.4 406.9 C359 405 358.5 403.2 358.3 401.3Z" fill="#7acccc" stroke="#1a1a1a" stroke-width="0.45"/>
<path d="M361.1 401.3 C360.8 399.6 361 397.8 361 396 C361.1 394.2 360.9 392.2 361.5 390.5 C362 388.8 362.9 387.1 364.2 385.8 C365.4 384.5 367.3 383.5 369.1 382.8 C370.8 382 372.8 381.6 374.6 381.3 C376.4 381 378.2 381 379.8 380.9 C381.4 380.8 382.7 380.6 384 380.6 C385.4 380.5 386.6 380.5 387.8 380.5 C389.1 380.5 390.2 380.5 391.3 380.5 C392.4 380.5 393.5 380.5 394.6 380.5 C395.7 380.5 396.8 380.4 397.9 380.5 C399 380.6 400.1 380.7 401.3 380.8 C402.4 380.9 403.6 381.1 404.8 381.2 C406.1 381.3 407.5 381.3 408.9 381.6 C410.3 381.8 411.7 382.2 413.2 382.7 C414.7 383.2 416.3 383.7 417.7 384.5 C419.1 385.3 420.5 386.4 421.7 387.5 C422.9 388.6 424.2 390 425 391.4 C425.8 392.9 426.2 394.6 426.6 396.2 C427 397.9 427.4 399.6 427.5 401.3 C427.6 403 427.4 404.7 427.3 406.5 C427.2 408.2 427.3 410.1 427 411.8 C426.7 413.6 426.2 415.3 425.7 417.2 C425.2 419 424.8 420.9 424.2 422.8 C423.5 424.7 422.7 426.6 421.7 428.4 C420.7 430.2 419.4 431.9 418.1 433.7 C416.8 435.5 415.5 437.5 413.9 439.1 C412.2 440.7 410.2 442 408.2 443.2 C406.2 444.4 404 445.4 401.7 446.2 C399.4 446.9 397 447.4 394.6 447.5 C392.2 447.5 389.7 447.5 387.4 446.7 C385.2 445.8 383.1 444.1 381.2 442.6 C379.3 441.1 377.6 439.3 376.1 437.6 C374.6 435.9 373.1 434.2 372 432.3 C371 430.5 370.3 428.3 369.6 426.3 C368.9 424.4 368.4 422.5 367.8 420.7 C367.3 419 366.8 417.4 366.2 415.8 C365.6 414.2 365.1 412.7 364.5 411.1 C363.9 409.5 363.3 408 362.8 406.3 C362.2 404.7 361.4 403 361.1 401.3Z" fill="#3aa070" stroke="#1a1a1a" stroke-width="0.45"/>
<path d="M364.5 401.3 C364.3 399.7 364.4 398.1 364.4 396.5 C364.5 394.9 364.5 393.2 364.9 391.6 C365.3 390.1 365.9 388.4 366.9 387.2 C367.9 385.9 369.5 384.9 371.1 384.2 C372.6 383.5 374.5 383.1 376.1 382.8 C377.7 382.5 379.4 382.4 380.8 382.3 C382.2 382.2 383.5 382.1 384.8 382 C386 382 387.2 382 388.3 382 C389.4 381.9 390.5 381.9 391.5 381.9 C392.6 381.9 393.6 381.9 394.6 381.9 C395.6 381.9 396.6 381.9 397.7 381.9 C398.7 382 399.7 382.1 400.8 382.2 C401.9 382.3 403 382.4 404.2 382.5 C405.4 382.6 406.7 382.6 408 382.8 C409.3 383.1 410.6 383.5 412 383.9 C413.3 384.4 414.9 384.9 416.2 385.6 C417.5 386.4 418.7 387.4 419.7 388.5 C420.8 389.6 421.9 390.9 422.5 392.2 C423.2 393.6 423.4 395.2 423.8 396.7 C424.1 398.2 424.4 399.7 424.5 401.3 C424.6 402.9 424.4 404.4 424.2 406 C424.1 407.6 424.1 409.2 423.8 410.8 C423.5 412.4 423 413.9 422.5 415.5 C422 417.1 421.5 418.7 420.8 420.3 C420.1 421.9 419.3 423.5 418.4 425.1 C417.4 426.6 416.3 428 415.1 429.5 C413.9 431 412.6 432.6 411.2 433.8 C409.7 435.1 408 436.2 406.3 437.2 C404.5 438.1 402.6 438.9 400.6 439.5 C398.7 440 396.6 440.4 394.6 440.4 C392.6 440.4 390.4 440.3 388.5 439.7 C386.6 439 384.8 437.7 383.2 436.5 C381.5 435.3 380.1 433.9 378.7 432.5 C377.4 431.1 376.1 429.7 375.1 428.2 C374.1 426.6 373.4 424.8 372.7 423.2 C372 421.6 371.4 420.1 370.8 418.6 C370.2 417.1 369.7 415.7 369.2 414.3 C368.6 412.9 368 411.5 367.4 410.1 C366.9 408.7 366.4 407.3 366 405.8 C365.5 404.4 364.8 402.9 364.5 401.3Z" fill="#78b838" stroke="#1a1a1a" stroke-width="0.45"/>
<path d="M367 401.3 C366.8 399.9 366.9 398.4 367 396.9 C367 395.5 367.1 393.9 367.4 392.5 C367.7 391 368 389.4 368.9 388.2 C369.7 387 371.2 386 372.5 385.3 C373.9 384.6 375.7 384.3 377.2 383.9 C378.7 383.6 380.2 383.5 381.6 383.3 C382.9 383.2 384.2 383.2 385.3 383.1 C386.5 383.1 387.6 383.1 388.7 383 C389.7 383 390.7 383 391.7 383 C392.7 383 393.6 382.9 394.6 382.9 C395.6 382.9 396.5 382.9 397.5 383 C398.5 383 399.4 383.1 400.5 383.2 C401.5 383.3 402.5 383.4 403.7 383.5 C404.8 383.5 406.1 383.5 407.3 383.8 C408.6 384 409.8 384.4 411 384.9 C412.3 385.3 413.9 385.7 415.1 386.4 C416.3 387.2 417.3 388.2 418.3 389.2 C419.2 390.3 420.2 391.5 420.7 392.8 C421.3 394.1 421.4 395.6 421.7 397 C421.9 398.4 422.2 399.9 422.2 401.3 C422.3 402.7 422.1 404.2 422 405.6 C421.9 407.1 421.7 408.6 421.4 410 C421.1 411.4 420.7 412.9 420.1 414.3 C419.6 415.7 419 417.1 418.3 418.5 C417.6 419.9 416.8 421.3 415.9 422.6 C415 423.9 414 425.2 412.8 426.4 C411.7 427.6 410.5 428.9 409.2 430 C407.9 431 406.4 432 404.8 432.8 C403.3 433.5 401.6 434.1 399.9 434.6 C398.2 435 396.4 435.2 394.6 435.2 C392.8 435.2 391 435.1 389.3 434.5 C387.7 434 386.1 432.9 384.6 432 C383.2 431 381.8 429.9 380.6 428.7 C379.4 427.6 378.2 426.4 377.3 425.1 C376.3 423.8 375.7 422.3 375 420.9 C374.2 419.6 373.6 418.3 373 417 C372.4 415.7 371.9 414.4 371.3 413.2 C370.8 411.9 370.1 410.7 369.6 409.4 C369.1 408.1 368.7 406.8 368.3 405.5 C367.9 404.1 367.3 402.7 367 401.3Z" fill="#2a7438" stroke="#1a1a1a" stroke-width="0.45"/>
<path d="M369.1 401.3 C368.9 400 368.9 398.6 369 397.2 C369 395.9 369.2 394.5 369.4 393.1 C369.7 391.7 369.8 390.2 370.5 389 C371.2 387.8 372.4 386.8 373.7 386.1 C375 385.4 376.7 385.2 378.1 384.8 C379.5 384.5 380.9 384.3 382.2 384.2 C383.4 384 384.6 384 385.8 384 C386.9 383.9 387.9 383.9 388.9 383.9 C390 383.9 390.9 383.8 391.8 383.8 C392.8 383.8 393.7 383.7 394.6 383.7 C395.5 383.8 396.4 383.8 397.4 383.8 C398.3 383.9 399.2 384 400.2 384 C401.2 384.1 402.2 384.1 403.3 384.2 C404.4 384.3 405.6 384.3 406.8 384.5 C408 384.7 409.1 385.2 410.3 385.6 C411.5 386 413 386.4 414.2 387.1 C415.3 387.8 416.3 388.8 417.1 389.8 C418 390.8 418.8 392 419.3 393.3 C419.7 394.5 419.8 395.9 420 397.3 C420.2 398.6 420.4 400 420.4 401.3 C420.5 402.6 420.4 404 420.2 405.4 C420.1 406.7 419.8 408.1 419.5 409.4 C419.2 410.7 418.8 412.1 418.3 413.4 C417.7 414.6 417 415.9 416.3 417.1 C415.6 418.3 414.8 419.5 414 420.7 C413.1 421.8 412.1 422.9 411 423.9 C410 425 408.9 426 407.6 426.9 C406.4 427.7 405.1 428.6 403.7 429.2 C402.3 429.8 400.8 430.3 399.2 430.6 C397.7 430.9 396.1 431.1 394.6 431.1 C393.1 431 391.5 430.9 390 430.4 C388.5 429.9 387.1 429.1 385.8 428.4 C384.5 427.6 383.3 426.7 382.2 425.7 C381 424.8 380 423.8 379.1 422.7 C378.2 421.6 377.5 420.3 376.8 419.1 C376.1 418 375.4 416.8 374.8 415.7 C374.2 414.6 373.7 413.4 373.1 412.3 C372.5 411.1 371.8 410 371.3 408.9 C370.8 407.7 370.6 406.4 370.2 405.2 C369.8 403.9 369.3 402.6 369.1 401.3Z" fill="#62ae40" stroke="#1a1a1a" stroke-width="0.45"/>
<path d="M371.2 401.3 C371 400.1 371 398.8 371.1 397.6 C371.2 396.3 371.4 395.1 371.5 393.8 C371.7 392.5 371.6 391 372.1 389.9 C372.7 388.7 373.8 387.7 375 387 C376.1 386.4 377.8 386.1 379.1 385.8 C380.4 385.5 381.6 385.2 382.8 385 C384 384.9 385.2 384.9 386.2 384.9 C387.3 384.9 388.3 384.8 389.2 384.8 C390.2 384.8 391.1 384.7 392 384.7 C392.9 384.7 393.7 384.6 394.6 384.6 C395.5 384.6 396.3 384.7 397.2 384.7 C398.1 384.8 399 384.8 399.9 384.9 C400.9 384.9 401.8 385 402.9 385 C403.9 385.1 405.1 385.1 406.2 385.3 C407.3 385.5 408.4 386 409.5 386.4 C410.7 386.8 412.2 387.1 413.2 387.7 C414.3 388.4 415.2 389.4 415.9 390.4 C416.7 391.4 417.4 392.6 417.7 393.8 C418.1 395 418.1 396.3 418.3 397.6 C418.4 398.8 418.5 400 418.5 401.3 C418.5 402.6 418.5 403.8 418.3 405.1 C418.2 406.3 417.8 407.5 417.5 408.7 C417.1 409.9 416.8 411.2 416.3 412.3 C415.7 413.5 415 414.5 414.2 415.6 C413.5 416.6 412.7 417.6 411.9 418.6 C411.1 419.6 410.1 420.5 409.2 421.3 C408.2 422.2 407.1 422.9 406 423.6 C404.8 424.3 403.7 425 402.5 425.5 C401.2 426 399.9 426.3 398.6 426.5 C397.3 426.7 395.9 426.8 394.6 426.7 C393.3 426.7 391.9 426.4 390.7 426.1 C389.4 425.7 388.2 425.2 387 424.6 C385.9 424 384.8 423.3 383.8 422.6 C382.7 421.8 381.8 421 380.9 420.1 C380.1 419.2 379.4 418.2 378.7 417.2 C378 416.2 377.3 415.3 376.6 414.4 C376 413.4 375.5 412.3 374.9 411.3 C374.3 410.3 373.6 409.3 373.2 408.3 C372.7 407.2 372.5 406 372.1 404.9 C371.8 403.7 371.3 402.5 371.2 401.3Z" fill="#f0e020" stroke="#1a1a1a" stroke-width="0.45"/>
<path d="M374.2 401.3 C374.1 400.2 374.1 399.1 374.2 398.1 C374.3 397 374.4 395.9 374.6 394.8 C374.8 393.7 374.7 392.4 375.2 391.4 C375.7 390.4 376.6 389.5 377.6 388.9 C378.6 388.3 379.9 388.1 381.1 387.8 C382.2 387.4 383.2 387.2 384.2 387 C385.2 386.8 386.3 386.8 387.2 386.8 C388.1 386.7 389 386.7 389.8 386.6 C390.7 386.6 391.5 386.5 392.3 386.5 C393 386.4 393.8 386.4 394.6 386.4 C395.4 386.4 396.2 386.5 396.9 386.5 C397.7 386.5 398.5 386.6 399.4 386.7 C400.2 386.7 401 386.8 401.9 386.9 C402.9 387 403.9 387 404.8 387.2 C405.8 387.4 406.7 387.8 407.7 388.2 C408.7 388.6 409.9 388.9 410.8 389.5 C411.7 390.1 412.5 391 413.1 391.9 C413.8 392.7 414.3 393.7 414.7 394.8 C415 395.8 415 397 415.1 398 C415.3 399.1 415.4 400.2 415.4 401.3 C415.4 402.4 415.4 403.5 415.2 404.6 C415.1 405.6 414.8 406.7 414.5 407.8 C414.2 408.8 413.9 409.9 413.4 410.9 C412.9 411.9 412.3 412.8 411.6 413.7 C411 414.6 410.3 415.5 409.6 416.3 C408.9 417.1 408.1 417.9 407.2 418.7 C406.3 419.4 405.4 420 404.4 420.6 C403.5 421.2 402.5 421.8 401.4 422.2 C400.3 422.6 399.2 422.9 398.1 423.1 C396.9 423.3 395.7 423.3 394.6 423.3 C393.5 423.2 392.3 423 391.2 422.7 C390.1 422.4 389 422 388 421.5 C387 421 386.1 420.4 385.2 419.8 C384.3 419.1 383.5 418.4 382.7 417.7 C382 416.9 381.4 416 380.7 415.2 C380.1 414.3 379.5 413.5 378.9 412.7 C378.4 411.8 377.9 410.9 377.4 410.1 C376.9 409.2 376.3 408.3 375.9 407.4 C375.5 406.4 375.3 405.4 375 404.4 C374.8 403.4 374.4 402.4 374.2 401.3Z" fill="#b87838" stroke="#1a1a1a" stroke-width="0.45"/>
<path d="M376.5 401.3 C376.4 400.4 376.4 399.4 376.5 398.4 C376.5 397.5 376.7 396.5 376.9 395.5 C377 394.6 377 393.4 377.4 392.5 C377.8 391.7 378.6 390.9 379.5 390.3 C380.3 389.8 381.5 389.5 382.5 389.2 C383.5 388.9 384.4 388.6 385.3 388.5 C386.2 388.3 387.1 388.2 387.9 388.2 C388.7 388.1 389.5 388 390.3 387.9 C391 387.9 391.7 387.8 392.5 387.8 C393.2 387.8 393.9 387.7 394.6 387.7 C395.3 387.7 396 387.8 396.7 387.8 C397.5 387.9 398.2 387.9 398.9 388 C399.7 388.1 400.4 388.2 401.2 388.3 C402.1 388.4 403 388.4 403.8 388.6 C404.7 388.8 405.4 389.2 406.3 389.6 C407.2 390 408.3 390.2 409 390.8 C409.8 391.4 410.5 392.1 411 392.9 C411.6 393.7 412.1 394.6 412.4 395.5 C412.7 396.4 412.7 397.4 412.8 398.4 C412.9 399.4 413 400.3 413 401.3 C413.1 402.3 413 403.2 412.9 404.2 C412.8 405.2 412.5 406.1 412.2 407 C412 408 411.7 408.9 411.3 409.8 C410.9 410.7 410.3 411.5 409.7 412.3 C409.1 413.1 408.5 413.9 407.9 414.6 C407.2 415.3 406.5 416 405.8 416.7 C405 417.3 404.2 417.9 403.3 418.4 C402.4 418.9 401.6 419.4 400.6 419.8 C399.7 420.2 398.7 420.4 397.7 420.6 C396.6 420.7 395.6 420.8 394.6 420.7 C393.6 420.7 392.6 420.5 391.6 420.3 C390.6 420 389.7 419.6 388.8 419.2 C387.9 418.8 387 418.3 386.2 417.7 C385.4 417.1 384.7 416.5 384 415.9 C383.4 415.2 382.8 414.4 382.2 413.7 C381.7 412.9 381.1 412.2 380.6 411.5 C380.1 410.7 379.7 409.9 379.3 409.1 C378.8 408.3 378.3 407.6 377.9 406.7 C377.6 405.9 377.4 405 377.2 404.1 C376.9 403.2 376.6 402.2 376.5 401.3Z" fill="#e87830" stroke="#1a1a1a" stroke-width="0.45"/>
<path d="M378.6 401.3 C378.5 400.5 378.5 399.6 378.6 398.8 C378.7 397.9 378.8 397.1 379 396.2 C379.1 395.4 379.1 394.4 379.5 393.6 C379.9 392.8 380.6 392.1 381.3 391.6 C382 391.1 383 390.8 383.8 390.5 C384.7 390.2 385.5 390 386.2 389.8 C387 389.6 387.8 389.5 388.6 389.4 C389.3 389.3 390 389.3 390.7 389.2 C391.3 389.1 392 389.1 392.7 389 C393.3 389 394 388.9 394.6 388.9 C395.2 388.9 395.9 389 396.5 389 C397.2 389.1 397.8 389.2 398.5 389.2 C399.2 389.3 399.9 389.4 400.6 389.5 C401.3 389.6 402.1 389.7 402.9 389.9 C403.6 390.2 404.3 390.5 405 390.9 C405.8 391.2 406.7 391.5 407.4 392 C408.1 392.5 408.6 393.2 409.1 393.9 C409.6 394.6 410 395.4 410.3 396.2 C410.6 397 410.6 397.9 410.7 398.8 C410.8 399.6 410.9 400.4 410.9 401.3 C410.9 402.2 410.9 403 410.7 403.9 C410.6 404.7 410.4 405.5 410.1 406.4 C409.9 407.2 409.7 408 409.3 408.8 C408.9 409.6 408.4 410.3 407.9 411 C407.4 411.7 406.9 412.4 406.3 413 C405.7 413.7 405.1 414.3 404.4 414.8 C403.8 415.4 403 415.9 402.3 416.3 C401.5 416.8 400.7 417.2 399.9 417.6 C399.1 417.9 398.2 418.1 397.3 418.2 C396.4 418.4 395.5 418.4 394.6 418.4 C393.7 418.4 392.8 418.2 392 418 C391.1 417.8 390.3 417.4 389.5 417.1 C388.7 416.7 387.9 416.3 387.2 415.8 C386.5 415.3 385.8 414.8 385.2 414.2 C384.6 413.6 384.1 412.9 383.6 412.3 C383.1 411.6 382.6 411 382.2 410.3 C381.7 409.7 381.4 408.9 381 408.2 C380.6 407.5 380.1 406.9 379.8 406.1 C379.5 405.4 379.4 404.5 379.2 403.7 C378.9 402.9 378.7 402.1 378.6 401.3Z" fill="#e03028" stroke="#1a1a1a" stroke-width="0.45"/>
<path d="M381.2 401.3 C381.1 400.6 381.1 399.9 381.2 399.2 C381.3 398.5 381.4 397.8 381.5 397.1 C381.7 396.3 381.7 395.5 382 394.9 C382.4 394.3 382.9 393.7 383.5 393.2 C384.1 392.8 384.8 392.5 385.5 392.2 C386.2 391.9 386.8 391.7 387.5 391.5 C388.1 391.3 388.7 391.2 389.4 391 C390 390.9 390.6 390.8 391.2 390.7 C391.8 390.6 392.3 390.6 392.9 390.5 C393.5 390.5 394 390.4 394.6 390.4 C395.2 390.4 395.7 390.5 396.3 390.5 C396.9 390.6 397.4 390.7 398 390.8 C398.6 390.8 399.2 391 399.8 391.1 C400.4 391.2 401.1 391.3 401.7 391.6 C402.3 391.8 402.9 392.1 403.5 392.4 C404.1 392.7 404.8 393 405.3 393.5 C405.9 393.9 406.3 394.5 406.7 395.1 C407.1 395.7 407.5 396.4 407.7 397 C407.9 397.7 408 398.5 408.1 399.2 C408.1 399.9 408.2 400.6 408.2 401.3 C408.2 402 408.2 402.7 408.1 403.4 C408 404.1 407.8 404.8 407.6 405.5 C407.4 406.2 407.2 406.9 406.9 407.6 C406.6 408.2 406.1 408.8 405.7 409.4 C405.3 410 404.9 410.5 404.4 411.1 C403.9 411.6 403.4 412.1 402.8 412.6 C402.2 413 401.6 413.4 401 413.8 C400.3 414.2 399.7 414.5 399 414.8 C398.3 415.1 397.6 415.2 396.8 415.3 C396.1 415.5 395.3 415.5 394.6 415.5 C393.9 415.5 393.1 415.4 392.4 415.2 C391.7 415 391 414.7 390.3 414.5 C389.7 414.2 389 413.8 388.4 413.4 C387.8 413 387.3 412.6 386.7 412.1 C386.2 411.6 385.8 411.1 385.4 410.5 C384.9 410 384.5 409.5 384.1 408.9 C383.7 408.4 383.4 407.8 383.1 407.2 C382.8 406.6 382.4 406 382.1 405.3 C381.9 404.7 381.8 404 381.6 403.4 C381.4 402.7 381.2 402 381.2 401.3Z" fill="#d83028" stroke="#1a1a1a" stroke-width="0.45"/>
<path d="M384.1 401.3 C384 400.8 384.1 400.2 384.1 399.6 C384.2 399.1 384.3 398.5 384.4 398 C384.6 397.5 384.7 396.9 384.9 396.4 C385.2 395.9 385.5 395.4 385.9 395 C386.4 394.6 386.9 394.3 387.4 394.1 C387.8 393.8 388.3 393.5 388.8 393.3 C389.3 393.1 389.8 393 390.3 392.8 C390.8 392.7 391.2 392.5 391.7 392.4 C392.2 392.3 392.7 392.3 393.2 392.2 C393.6 392.2 394.1 392.1 394.6 392.1 C395.1 392.1 395.6 392.2 396 392.2 C396.5 392.3 397 392.4 397.5 392.5 C398 392.6 398.4 392.7 398.9 392.8 C399.4 393 399.9 393.1 400.4 393.4 C400.8 393.6 401.3 393.9 401.7 394.2 C402.2 394.5 402.7 394.8 403.1 395.2 C403.4 395.5 403.8 396 404.1 396.5 C404.4 396.9 404.6 397.5 404.8 398 C405 398.5 405 399.1 405.1 399.6 C405.2 400.2 405.2 400.7 405.2 401.3 C405.2 401.9 405.2 402.4 405.1 403 C405 403.5 404.9 404.1 404.7 404.6 C404.6 405.1 404.4 405.7 404.1 406.2 C403.9 406.7 403.6 407.1 403.3 407.6 C402.9 408 402.6 408.5 402.2 408.9 C401.8 409.3 401.4 409.7 400.9 410 C400.5 410.4 400 410.7 399.5 411 C399 411.2 398.5 411.5 398 411.7 C397.4 411.9 396.9 412 396.3 412.1 C395.7 412.2 395.2 412.2 394.6 412.2 C394 412.2 393.5 412.1 392.9 412 C392.3 411.9 391.8 411.7 391.3 411.5 C390.8 411.3 390.3 411 389.8 410.8 C389.3 410.5 388.8 410.1 388.4 409.8 C388 409.4 387.6 409 387.3 408.6 C386.9 408.2 386.6 407.8 386.3 407.3 C386 406.9 385.7 406.4 385.5 406 C385.2 405.5 384.9 405 384.8 404.5 C384.6 404 384.5 403.5 384.3 402.9 C384.2 402.4 384.1 401.8 384.1 401.3Z" fill="#c02c2c" stroke="#1a1a1a" stroke-width="0.45"/>
<path d="M385.7 401.3 C385.7 400.8 385.7 400.4 385.8 399.9 C385.8 399.4 385.9 399 386 398.5 C386.2 398.1 386.3 397.6 386.5 397.2 C386.7 396.8 387 396.4 387.3 396 C387.6 395.7 388 395.4 388.4 395.1 C388.8 394.8 389.2 394.6 389.6 394.4 C390 394.1 390.4 394 390.8 393.8 C391.2 393.6 391.6 393.5 392 393.4 C392.5 393.3 392.9 393.2 393.3 393.2 C393.7 393.1 394.2 393.1 394.6 393.1 C395 393.1 395.5 393.1 395.9 393.2 C396.3 393.2 396.7 393.3 397.2 393.4 C397.6 393.5 398 393.7 398.4 393.8 C398.8 394 399.2 394.2 399.6 394.4 C400 394.6 400.4 394.9 400.7 395.2 C401.1 395.4 401.5 395.7 401.8 396.1 C402.1 396.4 402.4 396.8 402.6 397.2 C402.8 397.6 403 398.1 403.2 398.5 C403.3 399 403.4 399.4 403.5 399.9 C403.5 400.4 403.6 400.8 403.6 401.3 C403.6 401.8 403.5 402.2 403.5 402.7 C403.4 403.2 403.3 403.6 403.1 404.1 C403 404.5 402.8 405 402.6 405.4 C402.4 405.8 402.2 406.2 401.9 406.6 C401.6 407 401.3 407.3 401 407.7 C400.6 408 400.3 408.3 399.9 408.6 C399.5 408.9 399.1 409.2 398.7 409.4 C398.3 409.6 397.9 409.8 397.4 410 C397 410.1 396.5 410.2 396 410.3 C395.6 410.4 395.1 410.4 394.6 410.4 C394.1 410.4 393.6 410.4 393.2 410.3 C392.7 410.2 392.3 410 391.8 409.9 C391.4 409.7 390.9 409.5 390.5 409.3 C390.1 409.1 389.7 408.8 389.4 408.5 C389 408.2 388.7 407.9 388.4 407.5 C388 407.2 387.8 406.8 387.5 406.5 C387.2 406.1 387 405.7 386.8 405.3 C386.6 404.9 386.4 404.5 386.2 404 C386.1 403.6 386 403.1 385.9 402.7 C385.8 402.2 385.7 401.8 385.7 401.3Z" fill="#7a2838" stroke="#1a1a1a" stroke-width="0.45"/>
<path d="M387.3 401.3 C387.3 400.9 387.3 400.5 387.4 400.2 C387.4 399.8 387.5 399.4 387.7 399 C387.8 398.7 387.9 398.3 388.1 398 C388.3 397.6 388.5 397.3 388.7 397 C388.9 396.7 389.2 396.4 389.4 396.1 C389.7 395.9 390 395.6 390.3 395.4 C390.6 395.2 390.9 395 391.3 394.8 C391.6 394.6 392 394.5 392.3 394.4 C392.7 394.2 393.1 394.1 393.5 394.1 C393.8 394 394.2 394 394.6 394 C395 394 395.4 394 395.7 394.1 C396.1 394.1 396.5 394.2 396.9 394.4 C397.2 394.5 397.6 394.6 397.9 394.8 C398.3 395 398.6 395.2 398.9 395.4 C399.2 395.6 399.5 395.9 399.8 396.1 C400 396.4 400.3 396.7 400.5 397 C400.7 397.3 400.9 397.6 401.1 398 C401.3 398.3 401.4 398.7 401.5 399 C401.7 399.4 401.8 399.8 401.8 400.2 C401.9 400.5 401.9 400.9 401.9 401.3 C401.9 401.7 401.9 402.1 401.8 402.4 C401.8 402.8 401.7 403.2 401.5 403.6 C401.4 403.9 401.3 404.3 401.1 404.6 C400.9 405 400.7 405.3 400.5 405.6 C400.3 405.9 400 406.2 399.8 406.5 C399.5 406.7 399.2 407 398.9 407.2 C398.6 407.4 398.3 407.6 397.9 407.8 C397.6 408 397.2 408.1 396.9 408.2 C396.5 408.4 396.1 408.5 395.7 408.5 C395.4 408.6 395 408.6 394.6 408.6 C394.2 408.6 393.8 408.6 393.5 408.5 C393.1 408.5 392.7 408.4 392.3 408.2 C392 408.1 391.6 408 391.3 407.8 C390.9 407.6 390.6 407.4 390.3 407.2 C390 407 389.7 406.7 389.4 406.5 C389.2 406.2 388.9 405.9 388.7 405.6 C388.5 405.3 388.3 405 388.1 404.6 C387.9 404.3 387.8 403.9 387.7 403.6 C387.5 403.2 387.4 402.8 387.4 402.4 C387.3 402.1 387.3 401.7 387.3 401.3Z" fill="#5a1f4a" stroke="#1a1a1a" stroke-width="0.45"/>
</svg>
<path d="M82.7 371.8 H692.9 V466.2 H82.7" fill="none" stroke="#2a2648" stroke-width="0.8"/>
<g stroke="#9a9a9a" stroke-width="0.9"><line x1="139.9" y1="363.8" x2="139.9" y2="371.8"/><line x1="139.9" y1="466.2" x2="139.9" y2="474"/><line x1="222.3" y1="363.8" x2="222.3" y2="371.8"/><line x1="222.3" y1="466.2" x2="222.3" y2="474"/><line x1="304.6" y1="363.8" x2="304.6" y2="371.8"/><line x1="304.6" y1="466.2" x2="304.6" y2="474"/><line x1="387" y1="363.8" x2="387" y2="371.8"/><line x1="387" y1="466.2" x2="387" y2="474"/><line x1="469.4" y1="363.8" x2="469.4" y2="371.8"/><line x1="469.4" y1="466.2" x2="469.4" y2="474"/><line x1="551.7" y1="363.8" x2="551.7" y2="371.8"/><line x1="551.7" y1="466.2" x2="551.7" y2="474"/><line x1="634" y1="363.8" x2="634" y2="371.8"/><line x1="634" y1="466.2" x2="634" y2="474"/><line x1="75.5" y1="371.8" x2="82.7" y2="371.8"/><line x1="692.9" y1="371.8" x2="700.5" y2="371.8"/><line x1="75.5" y1="404.6" x2="82.7" y2="404.6"/><line x1="692.9" y1="404.6" x2="700.5" y2="404.6"/><line x1="75.5" y1="437.6" x2="82.7" y2="437.6"/><line x1="692.9" y1="437.6" x2="700.5" y2="437.6"/></g>
<rect x="710.2" y="369" width="9.8" height="5.4" fill="#4a2458"/><rect x="710.2" y="374" width="9.8" height="6.4" fill="#7a2838"/><rect x="710.2" y="380" width="9.8" height="6.4" fill="#c83028"/><rect x="710.2" y="386" width="9.8" height="5.8" fill="#e03028"/><rect x="710.2" y="391.4" width="9.8" height="5.9" fill="#e87830"/><rect x="710.2" y="396.9" width="9.8" height="7.4" fill="#b87838"/><rect x="710.2" y="403.9" width="9.8" height="5.4" fill="#f0e020"/><rect x="710.2" y="408.9" width="9.8" height="6.7" fill="#6ab040"/><rect x="710.2" y="415.2" width="9.8" height="6.1" fill="#2a7438"/><rect x="710.2" y="420.9" width="9.8" height="6.2" fill="#78b838"/><rect x="710.2" y="426.7" width="9.8" height="6.2" fill="#3aa070"/><rect x="710.2" y="432.5" width="9.8" height="5.6" fill="#80d0d0"/><rect x="710.2" y="437.7" width="9.8" height="6.8" fill="#5a70b0"/><rect x="710.2" y="444.1" width="9.8" height="6.2" fill="#4a4898"/><rect x="710.2" y="449.9" width="9.8" height="6.2" fill="#443c8c"/><rect x="710.2" y="455.7" width="9.8" height="6.2" fill="#3c2c7c"/><rect x="710.2" y="461.5" width="9.8" height="5.7" fill="#342a6a"/>
<rect x="710.2" y="369" width="9.8" height="97.8" fill="none" stroke="#444" stroke-width="0.6"/>
<g font-family="'Liberation Serif',serif" fill="#111" stroke="#111" stroke-width="0.22"><text x="139.9" y="487.5" font-size="12.5" text-anchor="middle">5</text><text x="222.3" y="487.5" font-size="12.5" text-anchor="middle">10</text><text x="304.6" y="487.5" font-size="12.5" text-anchor="middle">15</text><text x="387" y="487.5" font-size="12.5" text-anchor="middle">20</text><text x="469.4" y="487.5" font-size="12.5" text-anchor="middle">25</text><text x="551.7" y="487.5" font-size="12.5" text-anchor="middle">30</text><text x="634" y="487.5" font-size="12.5" text-anchor="middle">35</text><text x="72.4" y="375.8" font-size="12.5" text-anchor="end">0</text><text x="72.4" y="408.6" font-size="12.5" text-anchor="end">&#8722;2</text><text x="72.4" y="441.6" font-size="12.5" text-anchor="end">&#8722;4</text><text x="388" y="502.5" font-size="13" text-anchor="middle"><tspan font-style="italic">x</tspan><tspan dx="0.8">/</tspan><tspan dx="0.8">m</tspan></text><text transform="translate(46.5 415.8) rotate(-90)" font-size="13" text-anchor="middle" y="4.5"><tspan font-style="italic">z</tspan><tspan dx="0.8">/</tspan><tspan dx="0.8">m</tspan></text><text x="298.5" y="522.6" font-size="15.2" text-anchor="start" font-family="'Liberation Serif','Noto Serif CJK SC','Noto Sans CJK SC',serif">(c) RES2DINV<tspan stroke="#111" stroke-width="0.25">软件反演结果</tspan></text><text x="722.9" y="372.2" font-size="9.7" text-anchor="start">320.38</text><text x="722.9" y="390" font-size="9.7" text-anchor="start">233.9638</text><text x="722.9" y="406.5" font-size="9.7" text-anchor="start">178.7519</text><text x="722.9" y="423.8" font-size="9.7" text-anchor="start">136.5692</text><text x="722.9" y="440.8" font-size="9.7" text-anchor="start">104.341</text><text x="722.9" y="458.6" font-size="9.7" text-anchor="start">79.7181</text><text x="722.9" y="470.8" font-size="9.7" text-anchor="start">0</text><text transform="translate(777.6 417) rotate(-90)" font-size="14.8" text-anchor="middle" y="5" font-weight="bold"><tspan font-style="italic">&#961;</tspan> / ( &#937;&#183;m)</text></g>
</svg>
</body></html>
